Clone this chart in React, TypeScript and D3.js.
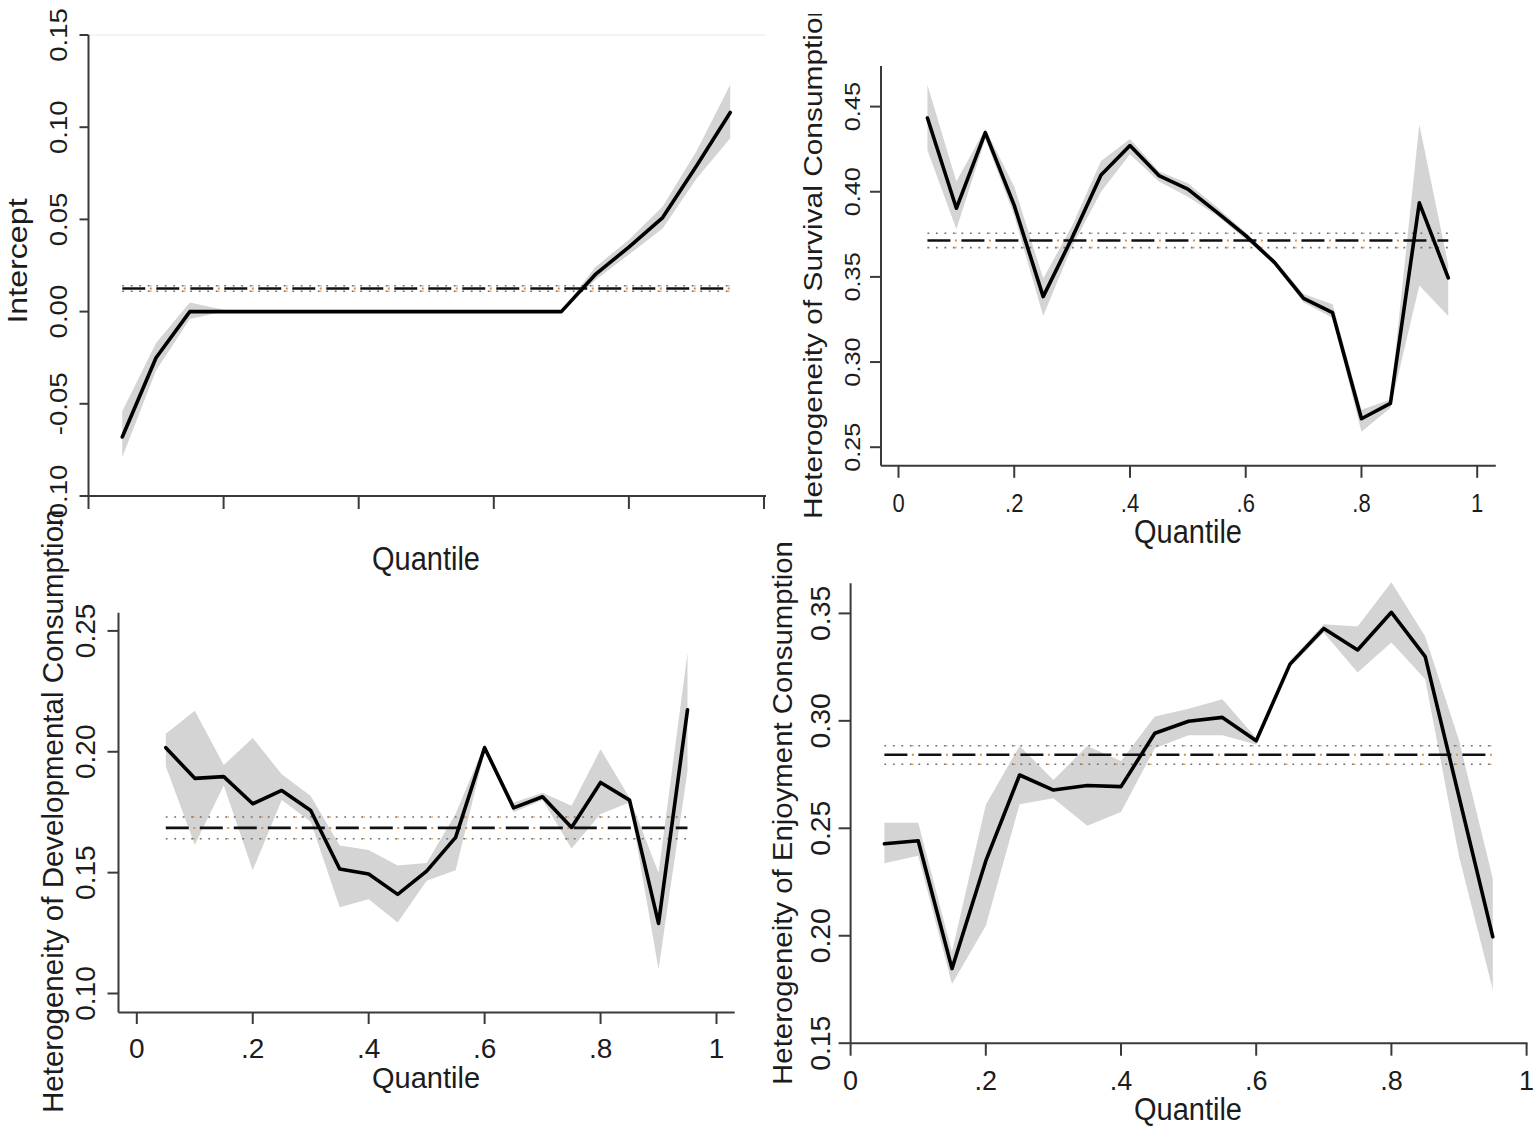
import React from 'react'
import * as d3 from 'd3'

const quantiles = [0.05, 0.1, 0.15, 0.2, 0.25, 0.3, 0.35, 0.4, 0.45, 0.5, 0.55, 0.6, 0.65, 0.7, 0.75, 0.8, 0.85, 0.9, 0.95]
const xTickValues = [0, 0.2, 0.4, 0.6, 0.8, 1]
const xTickLabels = ['0', '.2', '.4', '.6', '.8', '1']

// Intercept
const interceptCoef = [-0.068, -0.025, 0.0, 0, 0, 0, 0, 0, 0, 0, 0, 0, 0, 0, 0.02, 0.035, 0.051, 0.079, 0.108]
const interceptLower = [-0.079, -0.032, -0.004, 0, 0, 0, 0, 0, 0, 0, 0, 0, 0, 0, 0.017, 0.031, 0.045, 0.072, 0.094]
const interceptUpper = [-0.054, -0.017, 0.005, 0.001, 0, 0, 0, 0, 0, 0, 0, 0, 0, 0, 0.024, 0.039, 0.057, 0.087, 0.123]
const interceptOls = [0.011, 0.0125, 0.014]
const interceptTicks = [-0.1, -0.05, 0, 0.05, 0.1, 0.15]
const interceptTickLabels = ['-0.10', '-0.05', '0.00', '0.05', '0.10', '0.15']

// Survival consumption
const survivalCoef = [0.4433, 0.3903, 0.4347, 0.392, 0.3384, 0.373, 0.4099, 0.4271, 0.4095, 0.4015, 0.388, 0.3742, 0.3584, 0.3374, 0.329, 0.2667, 0.2757, 0.3935, 0.3494]
const survivalLower = [0.4244, 0.378, 0.431, 0.386, 0.327, 0.368, 0.4, 0.422, 0.406, 0.397, 0.386, 0.372, 0.357, 0.335, 0.326, 0.259, 0.273, 0.345, 0.327]
const survivalUpper = [0.4628, 0.406, 0.437, 0.403, 0.349, 0.38, 0.418, 0.431, 0.412, 0.405, 0.391, 0.376, 0.36, 0.34, 0.334, 0.272, 0.278, 0.4395, 0.357]
const survivalOls = [0.3672, 0.3714, 0.3756]
const survivalTicks = [0.25, 0.3, 0.35, 0.4, 0.45]
const survivalTickLabels = ['0.25', '0.30', '0.35', '0.40', '0.45']

// Developmental consumption
const developCoef = [0.2017, 0.189, 0.1897, 0.1785, 0.184, 0.1757, 0.1515, 0.1494, 0.141, 0.1506, 0.1646, 0.2017, 0.1768, 0.1814, 0.1687, 0.1873, 0.18, 0.129, 0.2174]
const developLower = [0.194, 0.1615, 0.186, 0.151, 0.18, 0.171, 0.1357, 0.139, 0.1294, 0.1466, 0.151, 0.2, 0.175, 0.18, 0.16, 0.1743, 0.179, 0.11, 0.192]
const developUpper = [0.2075, 0.217, 0.1945, 0.2057, 0.1907, 0.1817, 0.1612, 0.1594, 0.153, 0.154, 0.1744, 0.203, 0.179, 0.183, 0.1777, 0.201, 0.181, 0.15, 0.241]
const developOls = [0.164, 0.1685, 0.173]
const developTicks = [0.1, 0.15, 0.2, 0.25]
const developTickLabels = ['0.10', '0.15', '0.20', '0.25']

// Enjoyment consumption
const enjoyCoef = [0.2428, 0.2442, 0.1847, 0.2348, 0.2748, 0.2678, 0.2699, 0.2694, 0.2942, 0.2998, 0.3016, 0.2907, 0.3264, 0.343, 0.333, 0.3505, 0.3299, 0.2647, 0.1995]
const enjoyLower = [0.2337, 0.2372, 0.1775, 0.2047, 0.2612, 0.264, 0.2512, 0.2576, 0.2873, 0.2933, 0.2933, 0.289, 0.325, 0.341, 0.3225, 0.3365, 0.3193, 0.237, 0.1749]
const enjoyUpper = [0.2526, 0.2526, 0.1925, 0.261, 0.2883, 0.2725, 0.2883, 0.2813, 0.302, 0.3056, 0.31, 0.292, 0.328, 0.345, 0.3439, 0.3645, 0.3393, 0.291, 0.2266]
const enjoyOls = [0.2798, 0.2842, 0.2884]
const enjoyTicks = [0.15, 0.2, 0.25, 0.3, 0.35]
const enjoyTickLabels = ['0.15', '0.20', '0.25', '0.30', '0.35']

const font = '"Liberation Sans", Arial, sans-serif'
const ink = '#1c1c1c'
const axisColor = '#3a3a3a'

const panels = [
	{
		key: 'tl',
		title: 'Intercept',
		coef: interceptCoef, lower: interceptLower, upper: interceptUpper, ols: interceptOls,
		yTicks: interceptTicks, yTickLabels: interceptTickLabels,
		xRange: [88.5, 764], yRange: [496, 35],
		axisX: 88.5, axisTop: 35, axisBottom: 496, axisRight: 766,
		xTickLen: 13, yTickLen: 9,
		yLabelX: 67, xLabelY: 0, showXLabels: false,
		quantileX: 426, quantileY: 570,
		titleX: 27, titleY: 261, titleAnchor: 'middle',
		tickFont: 24, titleFont: 28, stretch: 1.15,
		topLine: true
	},
	{
		key: 'tr',
		title: 'Heterogeneity of Survival Consumption',
		coef: survivalCoef, lower: survivalLower, upper: survivalUpper, ols: survivalOls,
		yTicks: survivalTicks, yTickLabels: survivalTickLabels,
		xRange: [898.5, 1477.2], yRange: [447.2, 106.6],
		axisX: 881, axisTop: 66, axisBottom: 465.8, axisRight: 1495.8,
		xTickLen: 12, yTickLen: 11,
		yLabelX: 860, xLabelY: 512, showXLabels: true,
		quantileX: 1188, quantileY: 543,
		titleX: 822, titleY: 519, titleAnchor: 'start',
		tickFont: 22, titleFont: 26, stretch: 1.15,
		clipTop: 14
	},
	{
		key: 'bl',
		title: 'Heterogeneity of Developmental Consumption',
		coef: developCoef, lower: developLower, upper: developUpper, ols: developOls,
		yTicks: developTicks, yTickLabels: developTickLabels,
		xRange: [136.8, 716.5], yRange: [993.5, 630.9],
		axisX: 118.5, axisTop: 612.7, axisBottom: 1012.5, axisRight: 734.7,
		xTickLen: 11.5, yTickLen: 11,
		yLabelX: 95, xLabelY: 1058, showXLabels: true,
		quantileX: 426, quantileY: 1088,
		titleX: 63, titleY: 1113, titleAnchor: 'start',
		tickFont: 28, titleFont: 29.5, stretch: 1
	},
	{
		key: 'br',
		title: 'Heterogeneity of Enjoyment Consumption',
		coef: enjoyCoef, lower: enjoyLower, upper: enjoyUpper, ols: enjoyOls,
		yTicks: enjoyTicks, yTickLabels: enjoyTickLabels,
		xRange: [850.6, 1526.6], yRange: [1043.2, 613.4],
		axisX: 850.6, axisTop: 583.3, axisBottom: 1043.2, axisRight: 1527.5,
		xTickLen: 12.5, yTickLen: 12,
		yLabelX: 830, xLabelY: 1090, showXLabels: true,
		quantileX: 1188, quantileY: 1120,
		titleX: 792, titleY: 813, titleAnchor: 'middle',
		tickFont: 27, titleFont: 28, stretch: 1.05
	}
]

type PanelSpec = (typeof panels)[number]

const Panel = ({ p }: { p: PanelSpec }) => {
	const x = d3.scaleLinear().domain([0, 1]).range(p.xRange)
	const y = d3
		.scaleLinear()
		.domain([p.yTicks[0], p.yTicks[p.yTicks.length - 1]])
		.range(p.yRange)

	const rows = quantiles.map((q, i) => ({ q, c: p.coef[i], lo: p.lower[i], hi: p.upper[i] }))
	const band = d3
		.area<any>()
		.x(d => x(d.q))
		.y0(d => y(d.lo))
		.y1(d => y(d.hi))
	const line = d3
		.line<any>()
		.x(d => x(d.q))
		.y(d => y(d.c))

	const xs = x(quantiles[0])
	const xe = x(quantiles[quantiles.length - 1])
	const [olsLo, olsMid, olsHi] = p.ols
	const s = p.stretch
	const clipId = `clip-${p.key}`

	return (
		<g>
			{p.topLine && (
				<line x1={p.axisX} x2={p.axisRight} y1={p.axisTop} y2={p.axisTop} stroke="#f1f1f1" strokeWidth={1.5} />
			)}
			{p.clipTop !== undefined && (
				<clipPath id={clipId}>
					<rect x={p.titleX - 60} y={p.clipTop} width={120} height={1000} />
				</clipPath>
			)}

			{/* confidence band */}
			<path d={band(rows) ?? ''} fill="#d4d4d4" stroke="none" />

			{/* OLS estimate with its interval */}
			{[olsLo, olsHi].map((v, i) => (
				<g key={i}>
					<line x1={xs} x2={xe} y1={y(v)} y2={y(v)} stroke="#6e6e6e" strokeWidth={1.6} strokeDasharray="1.8 6.7" />
					<line x1={xs} x2={xe} y1={y(v)} y2={y(v)} stroke="#e0913a" strokeWidth={1.6} strokeDasharray="1.8 32.2" strokeDashoffset={6.5} opacity={0.7} />
				</g>
			))}
			<line x1={xs} x2={xe} y1={y(olsMid)} y2={y(olsMid)} stroke="#111" strokeWidth={2.6} strokeDasharray="23 11" />
			<line x1={xs} x2={xe} y1={y(olsMid)} y2={y(olsMid)} stroke="#e0913a" strokeWidth={2} strokeDasharray="2 32" strokeDashoffset={6.5} />

			{/* quantile coefficients */}
			<path d={line(rows) ?? ''} fill="none" stroke="#000" strokeWidth={3.6} strokeLinejoin="round" strokeLinecap="round" />

			{/* axes */}
			<line x1={p.axisX} x2={p.axisX} y1={p.axisTop} y2={p.axisBottom} stroke={axisColor} strokeWidth={2} />
			<line x1={p.axisX} x2={p.axisRight} y1={p.axisBottom} y2={p.axisBottom} stroke={axisColor} strokeWidth={2} />

			{p.yTicks.map((t, i) => (
				<g key={`y${i}`}>
					<line x1={p.axisX - p.yTickLen} x2={p.axisX} y1={y(t)} y2={y(t)} stroke={axisColor} strokeWidth={2} />
					<text
						transform={`translate(${p.yLabelX},${y(t)}) rotate(-90) scale(${s},1)`}
						textAnchor="middle"
						fontSize={p.tickFont}
						fontFamily={font}
						fill={ink}
					>
						{p.yTickLabels[i]}
					</text>
				</g>
			))}

			{xTickValues.map((t, i) => (
				<g key={`x${i}`}>
					<line x1={x(t)} x2={x(t)} y1={p.axisBottom} y2={p.axisBottom + p.xTickLen} stroke={axisColor} strokeWidth={2} />
					{p.showXLabels && (
						<text
							transform={`translate(${x(t)},${p.xLabelY}) scale(1,${s})`}
							textAnchor="middle"
							fontSize={p.tickFont}
							fontFamily={font}
							fill={ink}
						>
							{xTickLabels[i]}
						</text>
					)}
				</g>
			))}

			<text
				transform={`translate(${p.quantileX},${p.quantileY}) scale(1,${s})`}
				textAnchor="middle"
				fontSize={29}
				fontFamily={font}
				fill={ink}
			>
				Quantile
			</text>

			<g clipPath={p.clipTop !== undefined ? `url(#${clipId})` : undefined}>
				<text
					transform={`translate(${p.titleX},${p.titleY}) rotate(-90) scale(${s},1)`}
					textAnchor={p.titleAnchor}
					fontSize={p.titleFont}
					fontFamily={font}
					fill={ink}
				>
					{p.title}
				</text>
			</g>
		</g>
	)
}

const App = () => {
	return (
		<svg
			width={1535}
			height={1129}
			style={{ position: 'absolute', left: 0, top: 0, background: '#fff' }}
		>
			<rect width={1535} height={1129} fill="#fff" />
			{panels.map(p => (
				<Panel key={p.key} p={p} />
			))}
		</svg>
	)
}

export default App
